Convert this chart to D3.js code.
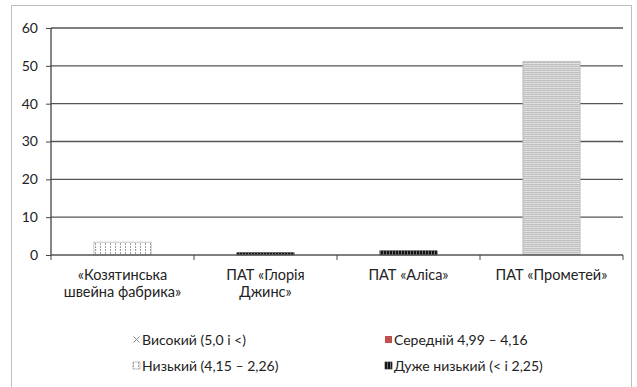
<!DOCTYPE html>
<html>
<head>
<meta charset="utf-8">
<script src="https://cdn.jsdelivr.net/npm/d3@7"></script>
<style>
body { margin: 0; background: #fff; }
text { font-family: Lato, "Open Sans", sans-serif; fill: #222; }
</style>
</head>
<body>
<svg id="chart" width="637" height="387"></svg>
<script>
// categories and series (one non-zero value per company)
var categories = [["«Козятинська", "швейна фабрика»"], ["ПАТ «Глорія", "Джинс»"], ["ПАТ «Аліса»"], ["ПАТ «Прометей»"]];
var seriesNames = ["Високий (5,0 і <)", "Середній 4,99 –  4,16", "Низький (4,15 –  2,26)", "Дуже низький (< і 2,25)"];
var high = [0, 0, 0, 51.2];
var medium = [0, 0, 0, 0];
var low = [3.4, 0, 0, 0];
var veryLow = [0, 0.6, 1.1, 0];
var yTicks = [0, 10, 20, 30, 40, 50, 60];

document.addEventListener("DOMContentLoaded", draw);

function draw() {
	var svg = d3.select("#chart");
	var defs = svg.append("defs");

	// fill patterns
	var p0 = defs.append("pattern").attr("id", "pHigh").attr("patternUnits", "userSpaceOnUse")
		.attr("width", 4).attr("height", 4);
	p0.append("rect").attr("width", 4).attr("height", 4).attr("fill", "#e6e6e6");
	p0.append("path").attr("d", "M0,1 L2,0 L4,1 M0,3 L2,2 L4,3").attr("stroke", "#a8a8a8").attr("stroke-width", 0.8).attr("fill", "none");

	var p2 = defs.append("pattern").attr("id", "pLow").attr("patternUnits", "userSpaceOnUse")
		.attr("width", 5).attr("height", 3);
	p2.append("rect").attr("width", 5).attr("height", 3).attr("fill", "#fff");
	p2.append("rect").attr("x", 0).attr("y", 0).attr("width", 1).attr("height", 2).attr("fill", "#a0a0a0");

	var p3 = defs.append("pattern").attr("id", "pVeryLow").attr("patternUnits", "userSpaceOnUse")
		.attr("width", 3).attr("height", 3);
	p3.append("rect").attr("width", 3).attr("height", 3).attr("fill", "#777");
	p3.append("rect").attr("width", 2).attr("height", 3).attr("fill", "#111");

	var fills = ["url(#pHigh)", "#c0504d", "url(#pLow)", "url(#pVeryLow)"];
	var strokes = ["#b5b5b5", "none", "#aaa", "#333"];

	// outer frame
	svg.append("rect").attr("x", 11.5).attr("y", 5.5).attr("width", 620).attr("height", 400)
		.attr("fill", "none").attr("stroke", "#bfbfbf");

	var plotL = 51, plotR = 623, plotT = 28, plotB = 255;

	var x = d3.scaleBand().domain(d3.range(categories.length)).range([plotL, plotR]).paddingInner(0.6).paddingOuter(0.3);
	var xs = d3.scaleBand().domain(d3.range(categories.length)).range([plotL, plotR]);
	var y = d3.scaleLinear().domain([0, 60]).range([plotB, plotT]);

	// gridlines
	svg.append("g").selectAll("line").data(yTicks.slice(1)).enter().append("line")
		.attr("x1", plotL).attr("x2", plotR)
		.attr("y1", d => y(d)).attr("y2", d => y(d))
		.attr("stroke", "#555").attr("stroke-width", 1.3);

	// bars (stacked)
	var rows = categories.map((c, i) => ({i: i, s0: high[i], s1: medium[i], s2: low[i], s3: veryLow[i]}));
	var stack = d3.stack().keys(["s0", "s1", "s2", "s3"])(rows);
	svg.append("g").selectAll("g").data(stack).enter().append("g")
		.each(function(layer, k) {
			d3.select(this).selectAll("rect").data(layer.filter(d => d[1] - d[0] > 0)).enter().append("rect")
				.attr("x", d => x(d.data.i))
				.attr("width", x.bandwidth())
				.attr("y", d => y(d[1]))
				.attr("height", d => y(d[0]) - y(d[1]))
				.attr("fill", fills[k])
				.attr("stroke", strokes[k]).attr("stroke-width", 0.7);
		});

	// y axis
	var yAxis = svg.append("g").attr("transform", "translate(" + plotL + ",0)")
		.call(d3.axisLeft(y).tickValues(yTicks).tickSize(5).tickPadding(8));
	yAxis.select(".domain").attr("stroke", "#444").attr("stroke-width", 1.3).attr("d", "M0," + plotT + "V" + plotB);
	yAxis.selectAll(".tick line").attr("stroke", "#444");
	yAxis.selectAll("text").style("font-size", "14px").style("font-family", "Lato, sans-serif").attr("fill", "#222");

	// x axis with ticks at band edges
	var xAxis = svg.append("g").attr("transform", "translate(0," + plotB + ")");
	xAxis.append("line").attr("x1", plotL).attr("x2", plotR).attr("stroke", "#555").attr("stroke-width", 1.3);
	xAxis.selectAll(".tk").data(d3.range(categories.length + 1)).enter().append("line")
		.attr("x1", d => plotL + d * xs.step()).attr("x2", d => plotL + d * xs.step())
		.attr("y1", 0).attr("y2", 5).attr("stroke", "#444");
	xAxis.selectAll(".lbl").data(categories).enter().append("text")
		.attr("text-anchor", "middle")
		.style("font-size", "14.5px")
		.attr("transform", (d, i) => "translate(" + (xs(i) + xs.bandwidth() / 2) + ",25)")
		.each(function(lines) {
			d3.select(this).selectAll("tspan").data(lines).enter().append("tspan")
				.attr("x", 0).attr("dy", (l, j) => j === 0 ? 0 : 17).text(l => l);
		});

	// legend
	var legendPos = [[133, 345], [385, 345], [133, 371], [385, 371]];
	var legend = svg.append("g").selectAll("g").data(seriesNames).enter().append("g")
		.attr("transform", (d, i) => "translate(" + legendPos[i][0] + "," + legendPos[i][1] + ")");
	legend.append("rect").attr("x", 0).attr("y", -9).attr("width", 7).attr("height", 7)
		.attr("fill", (d, i) => i === 0 ? "#fff" : fills[i])
		.attr("stroke", (d, i) => i === 1 || i === 0 ? "none" : strokes[i]).attr("stroke-width", 0.7);
	// cross mark for the "Високий" swatch
	legend.filter((d, i) => i === 0).append("path")
		.attr("d", "M0.5,-8.5L6.5,-2.5M6.5,-8.5L0.5,-2.5")
		.attr("stroke", "#888").attr("stroke-width", 1).attr("fill", "none");
	legend.append("text").attr("x", 9).attr("y", 0).style("font-size", "14px").text(d => d);
}
</script>
</body>
</html>
